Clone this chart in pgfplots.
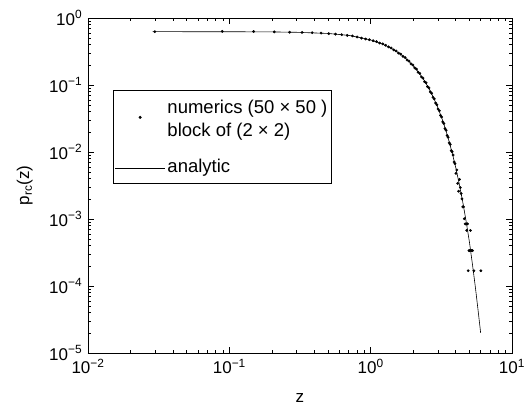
\documentclass[border=0pt]{standalone}
\usepackage{fontspec}
\setmainfont{Liberation Sans}
\usepackage{pgfplots}
\pgfplotsset{compat=1.18}
\pgfplotsset{
  dotlegend/.style={legend image code/.code={\draw[mark repeat=2,mark phase=2,##1] plot coordinates {(0pt,3pt) (25pt,3pt) (50pt,3pt)};}},
  linelegend/.style={legend image code/.code={\draw[##1] (0pt,0pt) -- (50pt,0pt);}},
}

% numerics: block-averaged histogram, z_k = 0.0297(2k+1)
\pgfplotstableread{
z      p
0.0297 0.625
0.0891 0.631
0.1485 0.628
0.208  0.620
0.267  0.614
0.327  0.609
0.386  0.603
0.446  0.595
0.505  0.583
0.564  0.574
0.624  0.563
0.683  0.551
0.743  0.540
0.802  0.521
0.861  0.500
0.921  0.486
0.980  0.474
1.040  0.458
1.099  0.444
1.158  0.423
1.218  0.410
1.277  0.392
1.337  0.372
1.396  0.357
1.455  0.334
1.515  0.322
1.574  0.300
1.634  0.289
1.693  0.268
1.752  0.257
1.812  0.236
1.871  0.227
1.931  0.207
1.990  0.199
2.049  0.180
2.109  0.173
2.168  0.155
2.228  0.149
2.287  0.132
2.346  0.127
2.406  0.112
2.465  0.108
2.525  0.0945
2.584  0.0905
2.643  0.0790
2.703  0.0752
2.762  0.0655
2.822  0.0620
2.881  0.0538
2.940  0.0508
3.000  0.0437
3.059  0.0413
3.119  0.0352
3.178  0.0333
3.237  0.0282
3.297  0.0266
3.356  0.0224
3.416  0.0211
3.475  0.0176
3.534  0.0166
3.594  0.0137
3.653  0.0130
3.713  0.0105
3.772  0.0101
3.831  0.0090
3.891  0.0071
3.950  0.0067
4.010  0.0048
4.069  0.0054
4.128  0.0034
4.188  0.0026
4.247  0.0039
4.307  0.00295
4.366  0.0024
4.425  0.0020
4.485  0.00152
4.544  0.00152
4.604  0.00101
4.663  0.000845
4.722  0.000845
4.782  0.000676
4.841  0.000845
4.901  0.000169
4.960  0.000338
5.020  0.000338
5.079  0.000676
5.139  0.000338
5.198  0.000338
5.257  0.000338
5.376  0.000169
6.029  0.000169
}\numerics

\pgfplotstableread{
z      p
0.0287 0.625
0.1    0.624
0.2    0.620
0.3    0.612
0.5    0.588
0.7    0.550
0.85   0.508
1.0    0.470
1.2    0.412
1.4    0.353
1.6    0.297
1.8    0.243
2.0    0.194
2.2    0.152
2.4    0.116
2.6    0.0865
2.8    0.0631
3.0    0.0450
3.2    0.0313
3.4    0.0213
3.6    0.0140
3.8    0.00916
4.0    0.00585
4.25   0.00322
4.5    0.00172
4.75   0.00089
5.0    0.00045
5.25   0.00021
5.5    0.000098
5.75   0.000044
6.0    0.000020
}\analytic

\begin{document}
\fontsize{17}{20}\selectfont
\begin{tikzpicture}
\begin{axis}[
  at={(0pt,0pt)}, anchor=south west,
  scale only axis, width=424pt, height=335pt,
  xmode=log, ymode=log,
  xmin=1e-2, xmax=10, ymin=1e-5, ymax=1,
  xtick={1e-2,1e-1,1,10},
  xticklabels={10\textsuperscript{−2},10\textsuperscript{−1},10\textsuperscript{0},10\textsuperscript{1}},
  ytick={1e-5,1e-4,1e-3,1e-2,1e-1,1},
  yticklabels={10\textsuperscript{−5},10\textsuperscript{−4},10\textsuperscript{−3},10\textsuperscript{−2},10\textsuperscript{−1},10\textsuperscript{0}},
  tick align=inside,
  major tick length=6pt, minor tick length=3.5pt,
  axis line style={line width=0.8pt},
  every tick/.style={black, line width=0.6pt},
  tick label style={font=\fontsize{17}{20}\selectfont},
  label style={font=\fontsize{17}{20}\selectfont},
  xlabel={z},
  ylabel={p\textsubscript{rc}(z)},
  x label style={at={(axis description cs:0.5,-0.134)}, anchor=center},
  y label style={at={(axis description cs:-0.149,0.5)}, anchor=center},
  legend cell align=left,
  legend style={at={(0.058,0.785)}, anchor=north west, draw=black, line width=0.6pt,
    font=\fontsize{18.5}{23}\selectfont, inner xsep=2pt, inner ysep=5pt,
    nodes={text depth=}, row sep=12pt},
]
\addplot[only marks, mark=*, mark size=1.2pt, black, dotlegend]
  table[x=z, y=p] {\numerics};
\addlegendentry{\begin{tabular}[c]{@{}l@{}}numerics (50 × 50 )\\block of (2 × 2)\end{tabular}}
\addplot[black, line width=0.6pt, mark=none, linelegend]
  table[x=z, y=p] {\analytic};
\addlegendentry{analytic}
\end{axis}
\pgfresetboundingbox
\path (-88pt,-57pt) rectangle (438pt,353pt);
\end{tikzpicture}
\end{document}
